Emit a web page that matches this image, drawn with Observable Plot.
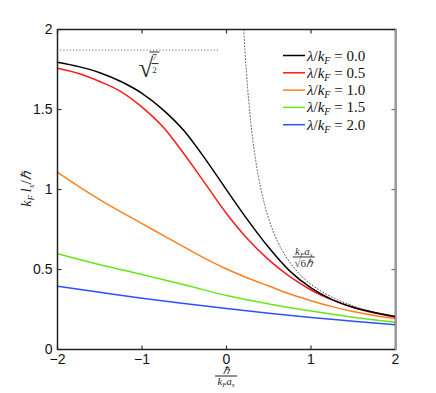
<!DOCTYPE html>
<html><head><meta charset="utf-8">
<script src="https://cdn.jsdelivr.net/npm/d3@7"></script>
<script src="https://cdn.jsdelivr.net/npm/@observablehq/plot@0.6"></script>
<style>body{margin:0;background:#fff}</style>
</head><body><div id="chart"></div>
<script>
// ---- data ----
const xGrid = [-2,-1.75,-1.5,-1.25,-1,-0.75,-0.5,-0.25,0,0.25,0.5,0.75,1,1.25,1.5,1.75,2];
const yLam00 = [1.795,1.768,1.730,1.675,1.601,1.498,1.366,1.19,0.998,0.81,0.637,0.49,0.385,0.312,0.264,0.231,0.206];
const yLam05 = [1.758,1.725,1.675,1.612,1.515,1.39,1.22,1.035,0.85,0.69,0.56,0.455,0.372,0.31,0.262,0.228,0.202];
const yLam10 = [1.108,1.02,0.937,0.86,0.787,0.713,0.64,0.568,0.503,0.447,0.397,0.347,0.305,0.268,0.237,0.212,0.192];
const xCoarse = [-2,-1.5,-1,-0.5,0,0.5,1,1.5,2];
const yLam15 = [0.598,0.53,0.469,0.405,0.337,0.285,0.24,0.202,0.171];
const yLam20 = [0.396,0.358,0.321,0.288,0.256,0.226,0.2,0.177,0.154];
const lambdaLabels = ["0.0","0.5","1.0","1.5","2.0"];
const seriesColors = ["#000000","#ff1a1a","#ff7f1e","#66e619","#2f4fff"];
const asymX = [0.204,0.22,0.25,0.275,0.3,0.35,0.4,0.45,0.5,0.55,0.6,0.65,0.75,0.85,1,1.1,1.25,1.5,1.75,2];
const asymY = [2.0,1.856,1.633,1.485,1.361,1.166,1.021,0.907,0.816,0.742,0.680,0.628,0.544,0.480,0.408,0.371,0.327,0.272,0.233,0.204];
const sqrtLevel = 1.871;
const sqrtLineX = [-2, -0.09];
const xDomain = [-2, 2];
const yDomain = [0, 2];
const xTicks = [-2,-1,0,1,2];
const xTickLabels = ["\u22122","\u22121","0","1","2"];
const yTicks = [0,0.5,1,1.5,2];
const yTickLabels = ["0","0.5","1","1.5","2"];
const sqrtAnchor = [-1.0, 1.75];
const asymAnchor = [0.92, 0.575];

const xsBy = [xGrid, xGrid, xGrid, xCoarse, xCoarse];
const ysBy = [yLam00, yLam05, yLam10, yLam15, yLam20];
const seriesRows = ysBy.map((ys,i)=>ys.map((y,j)=>({x:xsBy[i][j], y, s:lambdaLabels[i]})));
const asymRows = asymX.map((x,i)=>({x, y:asymY[i]}));
const frameRows = [[xDomain[0],yDomain[0]],[xDomain[1],yDomain[0]],[xDomain[1],yDomain[1]],[xDomain[0],yDomain[1]],[xDomain[0],yDomain[0]]].map(([x,y])=>({x,y}));

const serif = "'Liberation Serif','Times New Roman',serif";
const sans = "'Liberation Sans',Arial,Helvetica,sans-serif";

const W = 436, H = 393, mL = 57, mR = 41, mT = 29, mB = 44;
const plotW = W - mL - mR, plotH = H - mT - mB, tickLen = 4;
const tx = tickLen / plotW * (xDomain[1] - xDomain[0]);
const ty = tickLen / plotH * (yDomain[1] - yDomain[0]);

function bar(g, x, y, w, h, fill) {
  g.append("rect").attr("x",x).attr("y",y).attr("width",w).attr("height",h).attr("fill",fill);
}

function decorations(index, scales, values, dims) {
  const x = scales.x, y = scales.y;
  const L = dims.marginLeft, R = dims.width - dims.marginRight;
  const T = dims.marginTop, B = dims.height - dims.marginBottom;
  const g = d3.create("svg:g");

  lambdaLabels.forEach((lab,i)=>{
    const py = T + 26.5 + 17.3*i;
    bar(g, R-112, py-0.75, 22, 1.5, seriesColors[i]);
    const t = g.append("text").attr("x",R-88).attr("y",py+5).attr("text-anchor","start")
      .attr("font-family",serif).attr("font-size",15).attr("fill","#111");
    t.append("tspan").attr("font-style","italic").text("\u03bb");
    t.append("tspan").text("/");
    t.append("tspan").attr("font-style","italic").text("k");
    t.append("tspan").attr("font-style","italic").attr("font-size",10).attr("dy",3).text("F");
    t.append("tspan").attr("dy",-3).text(" = " + lab);
  });

  const a = g.append("g").attr("font-family",serif).attr("fill","#333");
  const sx = x(sqrtAnchor[0]), sy = y(sqrtAnchor[1]);
  a.append("text").attr("x",sx-3).attr("y",sy+8).attr("font-size",27).attr("text-anchor","start").text("\u221a");
  bar(a, sx+8, sy-17.5, 10, 1, "#333");
  a.append("text").attr("x",sx+13).attr("y",sy-9.5).attr("font-size",9).attr("text-anchor","middle").text("7");
  bar(a, sx+10, sy-6, 7, 1, "#333");
  a.append("text").attr("x",sx+13).attr("y",sy+3.5).attr("font-size",9).attr("text-anchor","middle").text("2");
  const ax = x(asymAnchor[0]), ay = y(asymAnchor[1]);
  const n = a.append("text").attr("x",ax).attr("y",ay-2.5).attr("font-size",11).attr("text-anchor","middle").attr("font-style","italic");
  n.append("tspan").text("k");
  n.append("tspan").attr("font-size",7).attr("dy",2).text("F");
  n.append("tspan").attr("dy",-2).text("a");
  n.append("tspan").attr("font-size",7).attr("dy",2).text("s");
  bar(a, ax-11, ay-0.5, 22, 1, "#333");
  const d = a.append("text").attr("x",ax).attr("y",ay+10).attr("font-size",11).attr("text-anchor","middle");
  d.append("tspan").text("\u221a6");
  d.append("tspan").attr("font-style","italic").text("\u210f");

  const lab = g.append("g").attr("font-family",serif).attr("fill","#222");
  const cx = 31, cy = (T+B)/2;
  const yl = lab.append("text").attr("transform",`translate(${cx},${cy}) rotate(-90)`)
    .attr("text-anchor","middle").attr("font-size",14).attr("font-style","italic");
  yl.append("tspan").text("k");
  yl.append("tspan").attr("font-size",9).attr("dy",3).text("F");
  yl.append("tspan").attr("dy",-3).text("\u2009l");
  yl.append("tspan").attr("font-size",9).attr("dy",3).text("x");
  yl.append("tspan").attr("dy",-3).attr("font-style","normal").text("/");
  yl.append("tspan").text("\u210f");
  const mx = (L+R)/2;
  lab.append("text").attr("x",mx).attr("y",B+25).attr("text-anchor","middle").attr("font-size",10.5).attr("font-style","italic").text("\u210f");
  bar(lab, mx-11, B+26.5, 22, 1, "#222");
  const dl = lab.append("text").attr("x",mx).attr("y",B+35.5).attr("text-anchor","middle").attr("font-size",10.5).attr("font-style","italic");
  dl.append("tspan").text("k");
  dl.append("tspan").attr("font-size",7).attr("dy",2).text("F");
  dl.append("tspan").attr("dy",-2).text("a");
  dl.append("tspan").attr("font-size",7).attr("dy",2).text("s");
  return g.node();
}

const chart = Plot.plot({
  width: W, height: H,
  marginLeft: mL, marginRight: mR, marginTop: mT, marginBottom: mB,
  x: {domain: xDomain},
  y: {domain: yDomain},
  style: {fontFamily: sans, fontSize: "14px", background: "white", color: "#111"},
  marks: [
    Plot.axisX(xTicks, {tickSize: 0, tickPadding: 5, tickFormat: d => xTickLabels[xTicks.indexOf(d)], fontSize: 14, label: null}),
    Plot.axisY(yTicks, {tickSize: 0, tickPadding: 5, tickFormat: d => yTickLabels[yTicks.indexOf(d)], fontSize: 14, label: null}),
    Plot.ruleY([sqrtLevel], {x1: sqrtLineX[0], x2: sqrtLineX[1], stroke: "#555", strokeDasharray: "1,2.2", strokeWidth: 1}),
    Plot.line(asymRows, {x: "x", y: "y", stroke: "#555", strokeDasharray: "1,2.2", strokeWidth: 1, curve: "monotone-x"}),
    ...[4,3,2,1,0].map(i => Plot.line(seriesRows[i], {x: "x", y: "y", stroke: seriesColors[i], strokeWidth: 1.5, curve: "monotone-x"})),
    Plot.link(xTicks, {x1: d => d, x2: d => d, y1: yDomain[0], y2: yDomain[0] + ty, stroke: "#333", strokeWidth: 1.2}),
    Plot.link(xTicks, {x1: d => d, x2: d => d, y1: yDomain[1], y2: yDomain[1] - ty, stroke: "#333", strokeWidth: 1.2}),
    Plot.link(yTicks, {y1: d => d, y2: d => d, x1: xDomain[0], x2: xDomain[0] + tx, stroke: "#333", strokeWidth: 1.2}),
    Plot.link(yTicks, {y1: d => d, y2: d => d, x1: xDomain[1], x2: xDomain[1] - tx, stroke: "#777", strokeWidth: 1.2}),
    Plot.line(frameRows, {x: "x", y: "y", stroke: "#222", strokeWidth: 1.5}),
    Plot.line(frameRows.slice(1, 3), {x: "x", y: "y", stroke: "#9a9a9a", strokeWidth: 2, dx: 0.5}),
    decorations
  ]
});
document.getElementById("chart").appendChild(chart);
</script>
</body></html>
